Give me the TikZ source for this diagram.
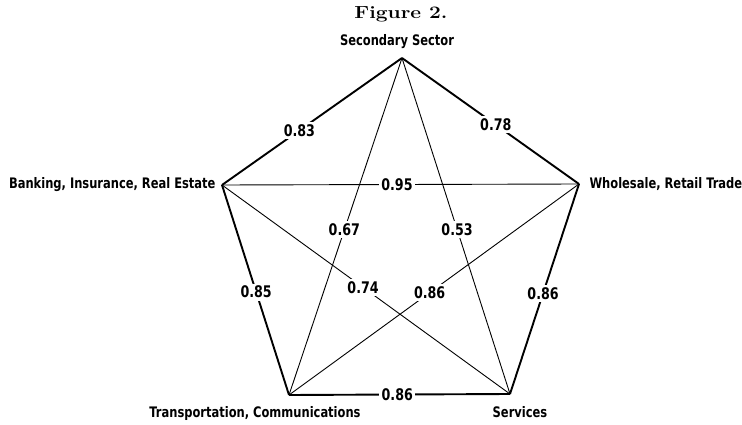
\documentclass[tikz,border=0pt]{standalone}
\usepackage{fontspec}
\usepackage{graphicx}
\newfontfamily\sectorfont[FakeStretch=0.88]{DejaVu Sans Condensed Bold}
\usetikzlibrary{positioning}

\begin{document}
\begin{tikzpicture}[x=1pt, y=-1pt, every node/.style={font=\sectorfont\fontsize{14.5}{16}\selectfont},
  side/.style={line width=1.9pt},
  cross/.style={line width=0.9pt},
  coef/.style={fill=white, inner sep=2.5pt, font=\sectorfont\fontsize{16}{18}\selectfont}]
  \useasboundingbox (0,0) rectangle (742,425);
  % pentagon corners  (y axis inverted, image pixels)
  \coordinate (sec) at (402,58);
  \coordinate (bank) at (222,185);
  \coordinate (trade) at (579,184);
  \coordinate (trans) at (289,395);
  \coordinate (serv) at (510,394);
  % title and sector names
  \node[font=\normalfont\bfseries\fontsize{17.5}{20}\selectfont] (title) at (401,14){\scalebox{1.2}[1]{Figure 2.}};
  \node (secname) at (397,42){Secondary Sector};
  \node[left=3pt of bank] (bankname){Banking, Insurance, Real Estate};
  \node[right=7pt of trade] (tradename){Wholesale, Retail Trade};
  \node (transname) at (255,413){Transportation, Communications};
  \node (servname) at (520,412){Services};
  % outer sides, heavy
  \draw[side] (sec) -- node[coef, pos=0.57]{0.83} (bank);
  \draw[side] (sec) -- node[coef, pos=0.53]{0.78} (trade);
  \draw[side] (bank) -- node[coef, pos=0.51]{0.85} (trans);
  \draw[side] (trade) -- node[coef, pos=0.52]{0.86} (serv);
  \draw[side] (trans) -- node[coef, pos=0.49]{0.86} (serv);
  % diagonals, light
  \draw[cross] (bank) -- node[coef, pos=0.49]{0.95} (trade);
  \draw[cross] (sec) -- node[coef, pos=0.51]{0.67} (trans);
  \draw[cross] (sec) -- node[coef, pos=0.51]{0.53} (serv);
  \draw[cross] (bank) -- node[coef, pos=0.49]{0.74} (serv);
  \draw[cross] (trade) -- node[coef, pos=0.515]{0.86} (trans);
\end{tikzpicture}
\end{document}
